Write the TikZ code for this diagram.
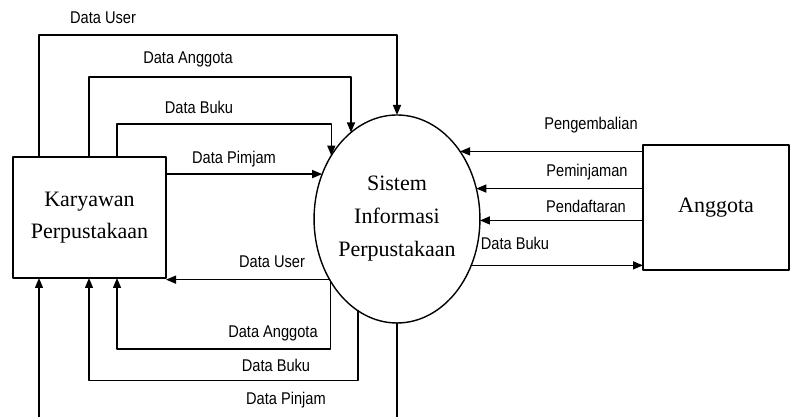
\documentclass[tikz,border=0pt]{standalone}
\usepackage{fontspec}
\setmainfont{Liberation Serif}
\newfontfamily\lblfont[FakeStretch=0.86]{Liberation Sans}
\usepackage{tikz}
\usetikzlibrary{arrows.meta,shapes.geometric}

\tikzset{
  entity/.style={draw,rectangle,inner sep=0pt,outer sep=0pt,align=center,
    font=\fontsize{22}{32}\selectfont},
  process/.style={draw,ellipse,inner sep=0pt,outer sep=0pt,align=center,
    minimum width=160pt,minimum height=208pt,font=\fontsize{22}{33}\selectfont},
  flowlabel/.style={inner sep=0pt,font=\lblfont\fontsize{17}{19}\selectfont}
}

\begin{document}
\begin{tikzpicture}[line cap=round,line join=round,line width=1.4pt,
  >={Triangle[length=10pt,width=8pt]},x=1pt,y=1pt]
\useasboundingbox (0,0) rectangle (790,417);
\clip (0,0) rectangle (790,417);

\node[entity,minimum width=153pt,minimum height=121pt] (kar) at (89.5,199.5) {Karyawan\\Perpustakaan};
\node[process] (sis) at (397,198) {Sistem\\Informasi\\Perpustakaan};
\node[entity,minimum width=146pt,minimum height=125pt] (ang) at (716,209.5) {Anggota};

\draw[->] ([xshift=26pt]kar.north west) -- ++(0,122) -| (sis.north);
\draw[->] ([xshift=76pt]kar.north west) -- ++(0,80) -| (sis.118);
\draw[->] ([xshift=104pt]kar.north west) -- ++(0,33) -| (sis.136);
\draw[->] (kar.east |- sis.149) -- (sis.149);

\draw[->] (sis.222) -- (kar.east |- sis.222);
\draw[->] (sis.223) -- ++(0,-68) -| ([xshift=104pt]kar.south west);
\draw[->] (sis.247) -- ++(0,-70) -| ([xshift=76pt]kar.south west);
\draw[->] (sis.south) -- ++(0,-110) -| ([xshift=26pt]kar.south west);

\draw[->] (ang.west |- sis.47) -- (sis.47);
\draw[->] (ang.west |- sis.21) -- (sis.21);
\draw[->] (ang.west |- sis.-1) -- (sis.-1);
\draw[->] (sis.-32) -- (ang.west |- sis.-32);

\node[flowlabel] (luser1) at (103,399) {Data User};
\node[flowlabel] (lang1) at (188,358) {Data Anggota};
\node[flowlabel] (lbuku1) at (199,310) {Data Buku};
\node[flowlabel] (lpim1) at (234,258) {Data Pimjam};
\node[flowlabel] (luser2) at (272,155) {Data User};
\node[flowlabel] (lang2) at (273,84) {Data Anggota};
\node[flowlabel] (lbuku2) at (276,52) {Data Buku};
\node[flowlabel] (lpin2) at (286,17) {Data Pinjam};
\node[flowlabel] (lkem) at (591,292) {Pengembalian};
\node[flowlabel] (lpem) at (587,245) {Peminjaman};
\node[flowlabel] (ldaf) at (586,211) {Pendaftaran};
\node[flowlabel] (lbuku3) at (515,174) {Data Buku};

\end{tikzpicture}
\end{document}
